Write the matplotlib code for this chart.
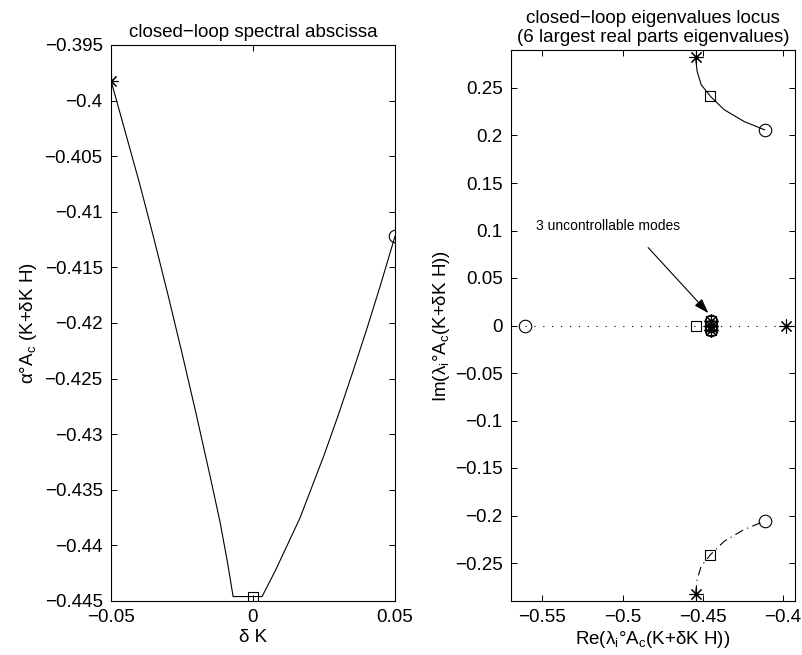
import numpy as np
import matplotlib.pyplot as plt
from matplotlib.ticker import FuncFormatter

plt.rcParams['font.family'] = ['Liberation Sans', 'DejaVu Sans']
plt.rcParams['mathtext.fontset'] = 'custom'
plt.rcParams['mathtext.rm'] = 'Liberation Sans'
plt.rcParams['mathtext.it'] = 'Liberation Sans'

# lewy wykres: odcięta spektralna w funkcji dK
dk = [-0.05, -0.045, -0.04, -0.035, -0.03, -0.025, -0.02, -0.015, -0.0116, -0.009, -0.007,
      0.0, 0.0032, 0.008, 0.0166, 0.025, 0.03, 0.035, 0.04, 0.045, 0.05]
alpha = [-0.3982, -0.4028, -0.4074, -0.4123, -0.4174, -0.4227, -0.4282, -0.4339, -0.4379,
         -0.4415, -0.4446, -0.4446, -0.4446, -0.4422, -0.4375, -0.4319, -0.4283, -0.4245,
         -0.4206, -0.4165, -0.4122]
dk_marks = [-0.05, 0.0, 0.05]
alpha_marks = [-0.3982, -0.4446, -0.4122]

# prawy wykres: para zespolona (górna gałąź, dolna = sprzężenie)
re_pair = [-0.4545, -0.4535, -0.4510, -0.4452, -0.4366, -0.4243, -0.4115]
im_pair = [0.2827, 0.2676, 0.2535, 0.2412, 0.2271, 0.2148, 0.2060]
# wartość własna rzeczywista
re_real = [-0.5605, -0.4543, -0.3982]
# tryby niesterowalne
re_unc = [-0.4447, -0.4447, -0.4447]
im_unc = [0.0045, 0.0, -0.0045]

left_yticks = [-0.445, -0.44, -0.435, -0.43, -0.425, -0.42, -0.415, -0.41, -0.405, -0.4, -0.395]
left_xticks = [-0.05, 0, 0.05]
right_xticks = [-0.55, -0.5, -0.45, -0.4]
right_yticks = [-0.25, -0.2, -0.15, -0.1, -0.05, 0, 0.05, 0.1, 0.15, 0.2, 0.25]

fmt = FuncFormatter(lambda v, p: ('%g' % round(v, 4)).replace('-', '\u2212'))
FS = 13.5
mk = dict(color='k', markerfacecolor='none', markeredgewidth=0.8, linestyle='none')
star = (8, 2, 0)


def style(ax):
    ax.tick_params(direction='in', length=4, width=0.7, top=True, right=True,
                   labelsize=FS, pad=6)
    for s in ax.spines.values():
        s.set_linewidth(0.8)
    ax.xaxis.set_major_formatter(fmt)
    ax.yaxis.set_major_formatter(fmt)


fig = plt.figure(figsize=(8.02, 6.55), dpi=100)

ax1 = fig.add_axes([111 / 802, 54 / 655, 284 / 802, 556 / 655])
ax1.plot(dk, alpha, color='k', lw=0.8)
ax1.plot(dk_marks[0], alpha_marks[0], marker=star, markersize=10, **mk)
ax1.plot(dk_marks[1], alpha_marks[1], marker='s', markersize=7.5, **mk)
ax1.plot(dk_marks[2], alpha_marks[2], marker='o', markersize=9, **mk)
ax1.set_xlim(-0.05, 0.05)
ax1.set_ylim(-0.445, -0.395)
ax1.set_xticks(left_xticks)
ax1.set_yticks(left_yticks)
style(ax1)
ax1.set_title('closed\u2212loop spectral abscissa', fontsize=FS, pad=6)
ax1.set_xlabel('\u03b4 K', fontsize=FS, labelpad=2)
ax1.set_ylabel('\u03b1\u00b0A$_\\mathregular{c}$ (K+\u03b4K H)', fontsize=FS, labelpad=4)

ax2 = fig.add_axes([511 / 802, 54 / 655, 284 / 802, 551 / 655])
ax2.plot(re_pair, im_pair, color='k', lw=0.8)
ax2.plot(re_pair, [-v for v in im_pair], color='k', lw=0.8, linestyle=(0, (8, 4, 1, 4)))
ax2.plot(re_real, [0, 0, 0], color='k', lw=0.8, linestyle=(0, (1, 7)))
for sgn in (1, -1):
    ax2.plot(re_pair[0], sgn * im_pair[0], marker=star, markersize=10, **mk)
    ax2.plot(re_pair[3], sgn * im_pair[3], marker='s', markersize=7.5, **mk)
    ax2.plot(re_pair[-1], sgn * im_pair[-1], marker='o', markersize=9, **mk)
ax2.plot(re_real[0], 0, marker='o', markersize=9, **mk)
ax2.plot(re_real[1], 0, marker='s', markersize=7.5, **mk)
ax2.plot(re_real[2], 0, marker=star, markersize=10, **mk)
ax2.plot(re_unc, im_unc, marker='o', markersize=9, **mk)
ax2.plot(re_unc, im_unc, marker='s', markersize=7.5, **mk)
ax2.plot(re_unc, im_unc, marker=star, markersize=10, **mk)
ax2.set_xlim(-0.5695, -0.3925)
ax2.set_ylim(-0.29, 0.29)
ax2.set_xticks(right_xticks)
ax2.set_yticks(right_yticks)
style(ax2)
ax2.set_title('closed\u2212loop eigenvalues locus\n(6 largest real parts eigenvalues)',
              fontsize=FS, pad=6, linespacing=1.1)
ax2.set_xlabel('Re(\u03bb$_\\mathregular{i}$\u00b0A$_\\mathregular{c}$(K+\u03b4K H))',
               fontsize=FS, labelpad=2)
ax2.set_ylabel('Im(\u03bb$_\\mathregular{i}$\u00b0A$_\\mathregular{c}$(K+\u03b4K H))',
               fontsize=FS, labelpad=2)
ax2.text(-0.554, 0.105, '3 uncontrollable modes', fontsize=10, va='center', ha='left')
ax2.annotate('', xy=(-0.4465, 0.013), xytext=(-0.484, 0.082),
             arrowprops=dict(arrowstyle='-|>,head_length=0.9,head_width=0.3',
                             color='k', lw=0.8, shrinkA=0, shrinkB=0))

fig.savefig('out.png', dpi=100)
